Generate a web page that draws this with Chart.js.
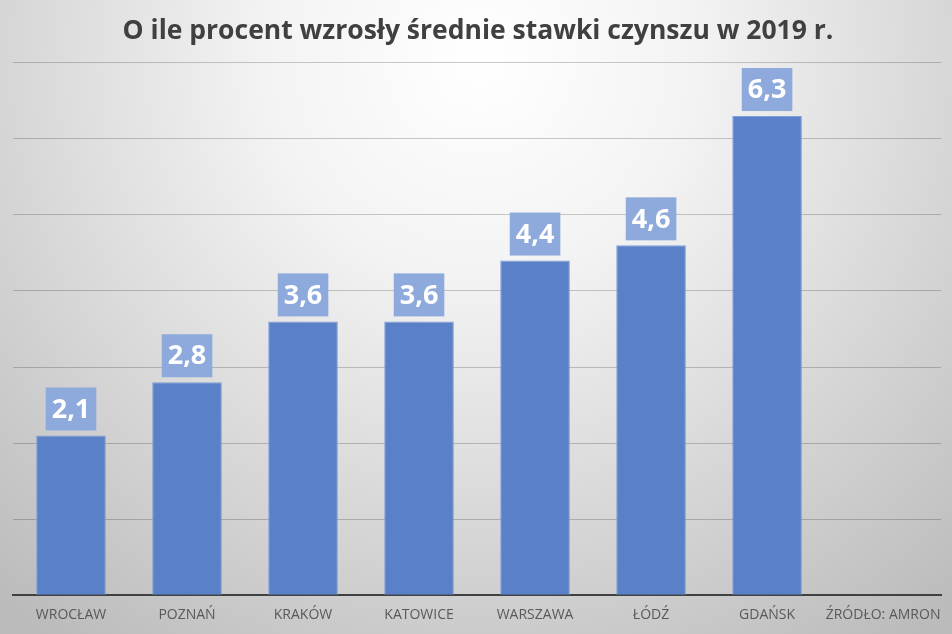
<!DOCTYPE html>
<html>
<head>
<meta charset="utf-8">
<script src="https://cdn.jsdelivr.net/npm/chart.js@4"></script>
<style>
  html, body { margin: 0; padding: 0; }
  #wrap { width: 952px; height: 634px; }
</style>
</head>
<body>
<div id="wrap"><canvas id="bar_chart" width="952" height="634"></canvas></div>
<script>
const cities = ['WROCŁAW', 'POZNAŃ', 'KRAKÓW', 'KATOWICE', 'WARSZAWA', 'ŁÓDŹ', 'GDAŃSK', 'ŹRÓDŁO: AMRON'];
const growth = [2.1, 2.8, 3.6, 3.6, 4.4, 4.6, 6.3, null];
const yMax = 7;

// tło z gradientem (jasny środek u góry, szare brzegi)
const bgPlugin = {
    id: 'bg',
    beforeDraw(chart) {
        const c = chart.ctx;
        const w = chart.width, h = chart.height;
        const g = c.createRadialGradient(480, 60, 0, 480, 60, 720);
        g.addColorStop(0, '#ffffff');
        g.addColorStop(0.3, '#f3f3f3');
        g.addColorStop(1, '#bbbbbb');
        c.save();
        c.fillStyle = g;
        c.fillRect(0, 0, w, h);
        c.restore();
    }
};

// etykiety wartości nad słupkami
const valueLabels = {
    id: 'valueLabels',
    afterDatasetsDraw(chart) {
        const c = chart.ctx;
        const meta = chart.getDatasetMeta(0);
        c.save();
        c.font = "bold 27px 'Open Sans', sans-serif";
        c.textAlign = 'center';
        c.textBaseline = 'middle';
        meta.data.forEach((bar, i) => {
            const v = growth[i];
            if (v === null) return;
            const txt = v.toFixed(1).replace('.', ',');
            const tw = c.measureText(txt).width;
            const bw = tw + 12, bh = 43;
            const bottom = bar.y - 5;
            c.fillStyle = '#8eaadc';
            c.fillRect(bar.x - bw / 2, bottom - bh, bw, bh);
            c.fillStyle = '#ffffff';
            c.fillText(txt, bar.x, bottom - bh / 2 + 1);
        });
        c.restore();
    }
};

const ctx = document.getElementById('bar_chart').getContext('2d');
const chart = new Chart(ctx, {
    type: 'bar',
    data: {
        labels: cities,
        datasets: [{
            data: growth,
            backgroundColor: '#5a80c8',
            borderColor: '#7f9fdb',
            borderWidth: 1,
            categoryPercentage: 1,
            barPercentage: 0.6,
        }]
    },
    options: {
        responsive: false,
        animation: false,
        layout: { padding: { left: 13, right: 9, top: 0, bottom: 0 } },
        plugins: {
            legend: { display: false },
            tooltip: { enabled: false },
            title: {
                display: true,
                text: 'O ile procent wzrosły średnie stawki czynszu w 2019 r.',
                color: '#404040',
                font: { family: "'Open Sans', sans-serif", size: 26.5, weight: 'bold' },
                padding: { top: 16, bottom: 15 },
            }
        },
        scales: {
            x: {
                grid: { display: false, drawTicks: false },
                border: { display: true, color: '#404040', width: 2 },
                ticks: {
                    color: '#595959',
                    font: { family: "'Open Sans', sans-serif", size: 14 },
                    padding: 11,
                    maxRotation: 0,
                    autoSkip: false,
                }
            },
            y: {
                min: 0,
                max: yMax,
                ticks: { display: false, stepSize: 1 },
                border: { display: false },
                grid: { color: 'rgba(0,0,0,0.2)', drawTicks: false }
            }
        }
    },
    plugins: [bgPlugin, valueLabels]
});
</script>
</body>
</html>
